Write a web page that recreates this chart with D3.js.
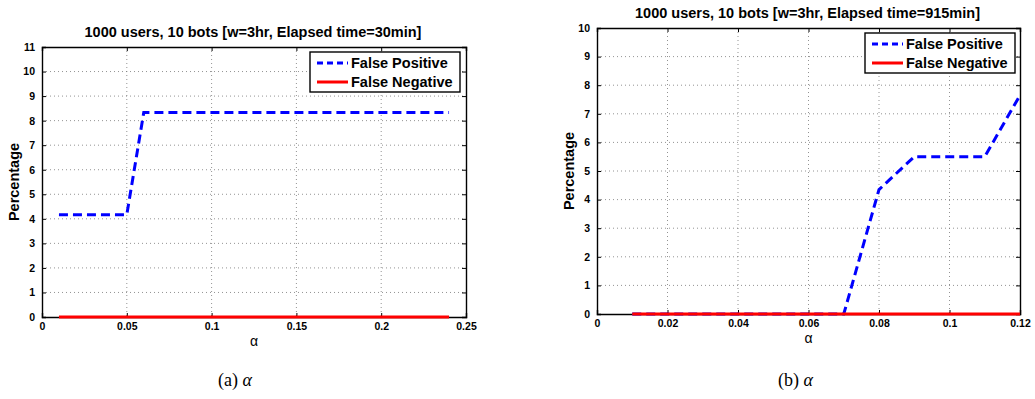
<!DOCTYPE html>
<html>
<head>
<meta charset="utf-8">
<script src="https://cdn.jsdelivr.net/npm/d3@7"></script>
<style>
  body { margin: 0; background: #fff; }
  svg text { font-family: "Liberation Sans", Arial, Helvetica, sans-serif; }
</style>
</head>
<body>
<svg id="chart" width="1035" height="399"></svg>
<script>
// 数据：左图 (Elapsed time=30min)
const alphaA = [0.01,0.02,0.03,0.04,0.05,0.06,0.07,0.08,0.09,0.10,0.11,0.12,0.13,0.14,0.15,0.16,0.17,0.18,0.19,0.20,0.21,0.22,0.23,0.24];
const fpA = [4.17,4.17,4.17,4.17,4.17,8.33,8.33,8.33,8.33,8.33,8.33,8.33,8.33,8.33,8.33,8.33,8.33,8.33,8.33,8.33,8.33,8.33,8.33,8.33];
const fnA = [0,0,0,0,0,0,0,0,0,0,0,0,0,0,0,0,0,0,0,0,0,0,0,0];
const xTicksA = [0,0.05,0.1,0.15,0.2,0.25];
const yTicksA = [0,1,2,3,4,5,6,7,8,9,10,11];

// 数据：右图 (Elapsed time=915min)
const alphaB = [0.01,0.02,0.03,0.04,0.05,0.06,0.07,0.08,0.09,0.10,0.11,0.12];
const fpB = [0,0,0,0,0,0,0,4.35,5.5,5.5,5.5,7.65];
const fnB = [0,0,0,0,0,0,0,0,0,0,0,0];
const xTicksB = [0,0.02,0.04,0.06,0.08,0.1,0.12];
const yTicksB = [0,1,2,3,4,5,6,7,8,9,10];

const titles = ["1000 users, 10 bots [w=3hr, Elapsed time=30min]", "1000 users, 10 bots [w=3hr, Elapsed time=915min]"];
const seriesNames = ["False Positive", "False Negative"];
const captions = ["(a)", "(b)"];

const svg = d3.select("#chart");

function drawPanel(cfg) {
  const x = d3.scaleLinear().domain(cfg.xDomain).range([cfg.left, cfg.right]);
  const y = d3.scaleLinear().domain(cfg.yDomain).range([cfg.bottom, cfg.top]);
  const g = svg.append("g");

  // 网格
  g.append("g").selectAll("line").data(cfg.xTicks.slice(1, -1)).join("line")
    .attr("x1", d => x(d)).attr("x2", d => x(d))
    .attr("y1", cfg.top).attr("y2", cfg.bottom)
    .attr("stroke", "#777").attr("stroke-width", 0.8).attr("stroke-dasharray", "1,3");
  g.append("g").selectAll("line").data(cfg.yTicks.slice(1, -1)).join("line")
    .attr("y1", d => y(d)).attr("y2", d => y(d))
    .attr("x1", cfg.left).attr("x2", cfg.right)
    .attr("stroke", "#777").attr("stroke-width", 0.8).attr("stroke-dasharray", "1,3");

  // 坐标轴（刻度朝内）
  const axB = d3.axisBottom(x).tickValues(cfg.xTicks).tickSize(-4).tickPadding(6).tickFormat(d3.format("~g"));
  const axT = d3.axisTop(x).tickValues(cfg.xTicks).tickSize(-4).tickFormat("");
  const axL = d3.axisLeft(y).tickValues(cfg.yTicks).tickSize(-4).tickPadding(7).tickFormat(d3.format("d"));
  const axR = d3.axisRight(y).tickValues(cfg.yTicks).tickSize(-4).tickFormat("");
  [[axB, `translate(0,${cfg.bottom})`], [axT, `translate(0,${cfg.top})`],
   [axL, `translate(${cfg.left},0)`], [axR, `translate(${cfg.right},0)`]].forEach(([ax, tr]) => {
    const a = g.append("g").attr("transform", tr).call(ax);
    a.select(".domain").attr("stroke", "#000").attr("stroke-width", 1.4);
    a.selectAll(".tick line").attr("stroke", "#000").attr("stroke-width", 1);
    a.selectAll("text").attr("font-size", 10.5).attr("font-weight", "bold").attr("fill", "#000");
  });

  // 曲线
  const line = d3.line().x(d => x(d[0])).y(d => y(d[1]));
  g.append("path").datum(cfg.alpha.map((a, i) => [a, cfg.fp[i]]))
    .attr("d", line).attr("fill", "none").attr("stroke", "#0000ff")
    .attr("stroke-width", 3).attr("stroke-dasharray", "9,5");
  g.append("path").datum(cfg.alpha.map((a, i) => [a, cfg.fn[i]]))
    .attr("d", line).attr("fill", "none").attr("stroke", "#ff0000")
    .attr("stroke-width", 3);

  // 标题和轴标签
  g.append("text").attr("x", (cfg.left + cfg.right) / 2 - 1).attr("y", cfg.top - 10)
    .attr("text-anchor", "middle").attr("font-size", 14.5).attr("font-weight", "bold").text(cfg.title);
  g.append("text").attr("transform", `translate(${cfg.left - 23},${(cfg.top + cfg.bottom) / 2}) rotate(-90)`)
    .attr("text-anchor", "middle").attr("font-size", 14.5).attr("font-weight", "bold").text("Percentage");
  g.append("text").attr("x", (cfg.left + cfg.right) / 2).attr("y", cfg.bottom + 29)
    .attr("text-anchor", "middle").attr("font-size", 14).text("α");

  // 图例
  const lg = g.append("g").attr("transform", `translate(${cfg.legX},${cfg.legY})`);
  lg.append("rect").attr("width", 150).attr("height", 40).attr("fill", "#fff")
    .attr("stroke", "#000").attr("stroke-width", 1.4);
  seriesNames.forEach((name, i) => {
    const ly = 11 + i * 19;
    lg.append("line").attr("x1", 7).attr("x2", 38).attr("y1", ly).attr("y2", ly)
      .attr("stroke", i === 0 ? "#0000ff" : "#ff0000").attr("stroke-width", 3)
      .attr("stroke-dasharray", i === 0 ? "6,4" : null);
    lg.append("text").attr("x", 41).attr("y", ly).attr("dy", "0.36em")
      .attr("font-size", 14.5).attr("font-weight", "bold").text(name);
  });

  // 子图标题
  const cap = svg.append("text").attr("x", cfg.capX).attr("y", 386)
    .attr("font-size", 18).style("font-family", "'Liberation Serif', 'DejaVu Serif', serif");
  cap.append("tspan").text(cfg.caption + " ");
  cap.append("tspan").attr("font-style", "italic").text("α");
}

drawPanel({
  left: 42, right: 466, top: 47, bottom: 317,
  xDomain: [0, 0.25], yDomain: [0, 11], xTicks: xTicksA, yTicks: yTicksA,
  alpha: alphaA, fp: fpA, fn: fnA, title: titles[0],
  legX: 310, legY: 52, caption: captions[0], capX: 218
});

drawPanel({
  left: 597, right: 1020, top: 28, bottom: 314,
  xDomain: [0, 0.12], yDomain: [0, 10], xTicks: xTicksB, yTicks: yTicksB,
  alpha: alphaB, fp: fpB, fn: fnB, title: titles[1],
  legX: 865, legY: 33, caption: captions[1], capX: 778
});
</script>
</body>
</html>
